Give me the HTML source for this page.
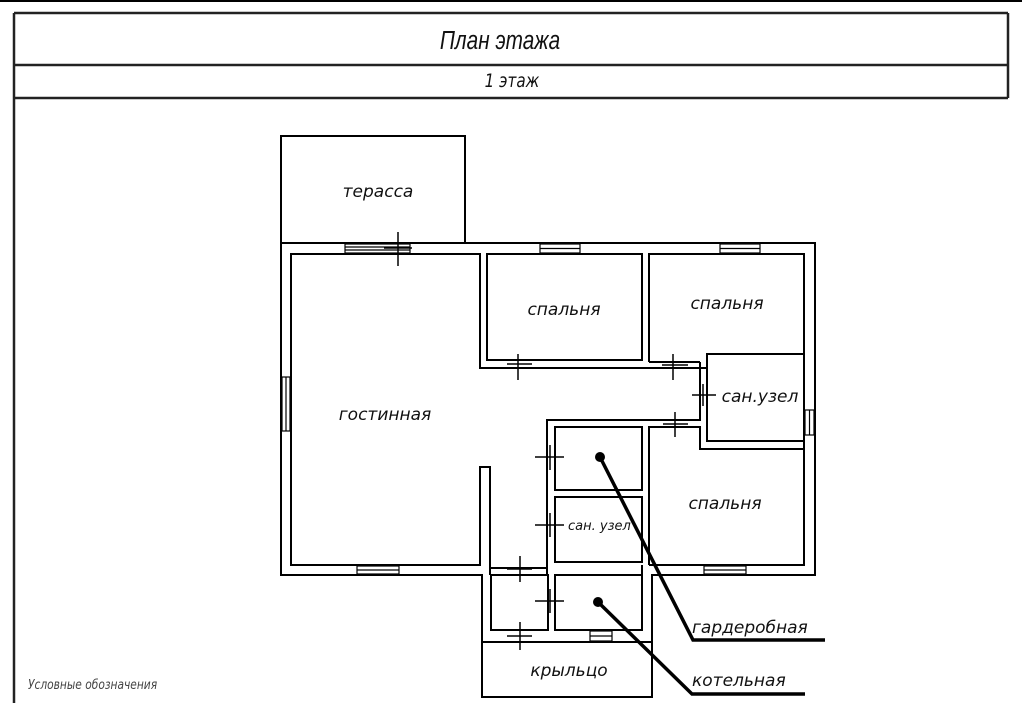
<!DOCTYPE html>
<html><head><meta charset="utf-8"><style>
html,body{margin:0;padding:0;background:#fff;}
svg{display:block;}
text{font-family:"DejaVu Sans","Liberation Sans",sans-serif;font-style:italic;fill:#111;}
</style></head><body>
<svg width="1022" height="703" viewBox="0 0 1022 703" xmlns="http://www.w3.org/2000/svg">
<rect width="1022" height="703" fill="#fff"/>
<line x1="0" y1="1" x2="1022" y2="1" stroke="#000" stroke-width="2"/>
<g stroke="#222" stroke-width="2.5" fill="none">
<line x1="14" y1="13" x2="1008" y2="13"/>
<line x1="14" y1="65" x2="1008" y2="65"/>
<line x1="14" y1="98" x2="1008" y2="98"/>
<line x1="14" y1="13" x2="14" y2="703"/>
<line x1="1008" y1="13" x2="1008" y2="98"/>
</g>
<text x="500" y="49" text-anchor="middle" font-size="26" style="font-family:'Liberation Sans Narrow','Liberation Sans',sans-serif" transform="translate(500 0) scale(0.8 1) translate(-500 0)">План этажа</text>
<text x="512" y="87" text-anchor="middle" font-size="19" transform="translate(512 0) scale(0.8 1) translate(-512 0)">1 этаж</text>

<g stroke="#000" stroke-width="2" fill="none">
<!-- terrace -->
<rect x="281" y="136" width="184" height="107"/>
<!-- outer walls -->
<polyline points="281,243 815,243 815,575 652,575 652,642 482,642 482,575 281,575 281,243"/>
<!-- living room inner -->
<polyline points="480,360 480,254 291,254 291,565 480,565 480,467 490,467 490,575"/>
<!-- bedroom1 -->
<rect x="487" y="254" width="155" height="106"/>
<polyline points="480,360 480,368 707,368"/>
<!-- bedroom2 -->
<polyline points="649,362 649,254 804,254 804,354"/>
<line x1="649" y1="362" x2="700" y2="362"/>
<!-- san uzel right -->
<rect x="707" y="354" width="97" height="87"/>
<polyline points="700,362 700,420 547,420 547,565"/>
<!-- bedroom3 -->
<polyline points="649,565 649,427 700,427 700,449 804,449 804,565 649,565"/>
<line x1="804" y1="441" x2="804" y2="449"/>
<!-- garderobnaya -->
<rect x="555" y="427" width="87" height="63"/>
<rect x="555" y="497" width="87" height="65"/>
<line x1="490" y1="568" x2="547" y2="568"/>
<!-- kotelnaya & small room -->
<rect x="555" y="575" width="87" height="55"/>
<rect x="491" y="575" width="57" height="55"/>
<line x1="547" y1="565" x2="547" y2="575"/>
<line x1="642" y1="565" x2="642" y2="630"/>
<!-- porch -->
<rect x="482" y="642" width="170" height="55"/>
</g>
<!-- windows -->
<g stroke="#000" stroke-width="1.2" fill="#fff">
<rect x="345" y="244" width="65" height="9"/><line x1="345" y1="247" x2="410" y2="247"/><line x1="345" y1="250" x2="410" y2="250"/>
<rect x="540" y="244" width="40" height="9"/><line x1="540" y1="248.5" x2="580" y2="248.5"/>
<rect x="720" y="244" width="40" height="9"/><line x1="720" y1="248.5" x2="760" y2="248.5"/>
<rect x="282" y="377" width="8" height="54"/><line x1="286" y1="377" x2="286" y2="431"/>
<rect x="805" y="410" width="9" height="25"/><line x1="809.5" y1="410" x2="809.5" y2="435"/>
<rect x="357" y="566" width="42" height="8"/><line x1="357" y1="570" x2="399" y2="570"/>
<rect x="704" y="566" width="42" height="8"/><line x1="704" y1="570" x2="746" y2="570"/>
<rect x="590" y="631" width="22" height="10"/><line x1="590" y1="636" x2="612" y2="636"/>
</g>
<!-- doors -->
<g stroke="#000" stroke-width="1.5">
<line x1="398" y1="232" x2="398" y2="266"/><line x1="384" y1="248" x2="412" y2="248"/>
<line x1="518" y1="354" x2="518" y2="380"/><line x1="507" y1="364" x2="532" y2="364"/>
<line x1="673" y1="354" x2="673" y2="380"/><line x1="662" y1="365" x2="688" y2="365"/>
<line x1="692" y1="395" x2="716" y2="395"/><line x1="703" y1="384" x2="703" y2="406"/>
<line x1="675" y1="412" x2="675" y2="437"/><line x1="663" y1="424" x2="688" y2="424"/>
<line x1="535" y1="457" x2="564" y2="457"/><line x1="550" y1="445" x2="550" y2="470"/>
<line x1="535" y1="525" x2="564" y2="525"/><line x1="550" y1="513" x2="550" y2="537"/>
<line x1="520" y1="556" x2="520" y2="582"/><line x1="507" y1="569" x2="532" y2="569"/>
<line x1="535" y1="601" x2="564" y2="601"/><line x1="550" y1="589" x2="550" y2="613"/>
<line x1="520" y1="622" x2="520" y2="650"/><line x1="507" y1="636" x2="532" y2="636"/>
</g>
<!-- leaders -->
<g stroke="#000" stroke-width="3.5" fill="none">
<polyline points="600,457 693,640 825,640"/>
<polyline points="598,602 692,694 805,694"/>
</g>
<circle cx="600" cy="457" r="5" fill="#000"/>
<circle cx="598" cy="602" r="5" fill="#000"/>
<g font-size="17">
<text x="378" y="197" text-anchor="middle">терасса</text>
<text x="564" y="315" text-anchor="middle">спальня</text>
<text x="727" y="309" text-anchor="middle">спальня</text>
<text x="385" y="420" text-anchor="middle">гостинная</text>
<text x="760" y="402" text-anchor="middle">сан.узел</text>
<text x="725" y="509" text-anchor="middle">спальня</text>
<text x="569" y="676" text-anchor="middle">крыльцо</text>
<text x="692" y="633">гардеробная</text>
<text x="692" y="686">котельная</text>
</g>
<text x="568" y="530" font-size="13">сан. узел</text>
<text x="28" y="689" font-size="13" fill="#444" style="fill:#444" transform="translate(28 0) scale(0.82 1) translate(-28 0)">Условные обозначения</text>
</svg>
</body></html>
